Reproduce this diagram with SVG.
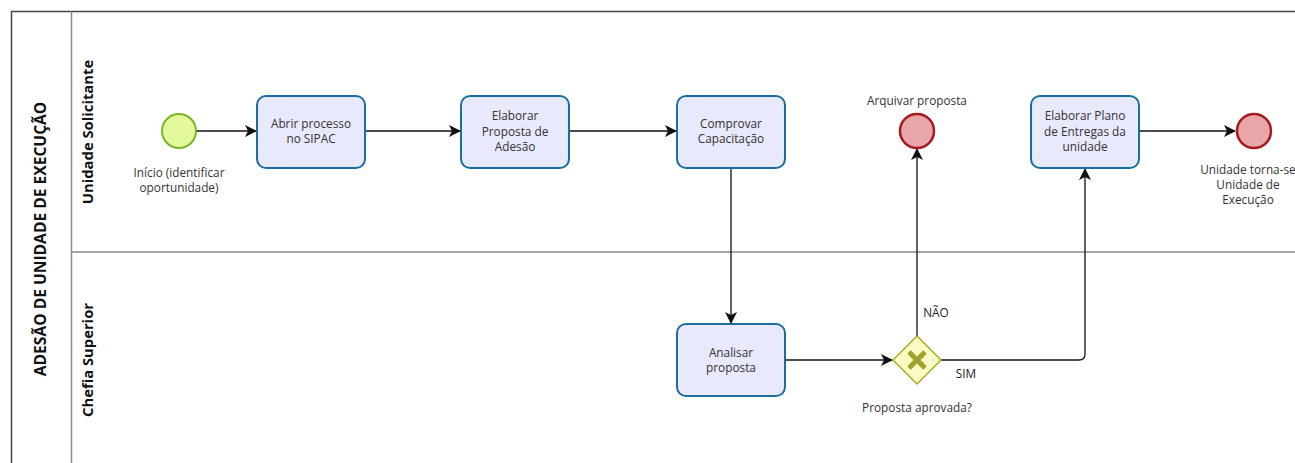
<svg xmlns="http://www.w3.org/2000/svg" width="1295" height="463" viewBox="0 0 1295 463">
<style>
.pool{fill:#fff;stroke:#444;stroke-width:1.5}
.lane{fill:none;stroke:#888;stroke-width:1.5}
.task{fill:#e8e9fc;stroke:#1b6e9f;stroke-width:2}
.start{fill:#e4f99b;stroke:#78b828;stroke-width:2}
.end{fill:#e9a6a8;stroke:#a41a20;stroke-width:2.5}
.gw{fill:#fbfbc4;stroke:#abab2a;stroke-width:1.5}
.gx{stroke:#a0a02a;stroke-width:5;stroke-linecap:butt}
.t{font-family:"Open Sans","Noto Sans",sans-serif;font-size:11.8px;fill:#333;text-anchor:middle}
.h{font-family:"Open Sans","Noto Sans",sans-serif;font-weight:bold;fill:#111;text-anchor:middle}
.c{fill:none;stroke:#111;stroke-width:1.3}
</style>
<defs>
<marker id="arr" viewBox="0 0 12 12" refX="11" refY="6" markerWidth="12" markerHeight="12" markerUnits="userSpaceOnUse" orient="auto">
<path d="M0,0 L12,6 L0,12 L3,6 Z" fill="#111"/>
</marker>
</defs>
<rect width="1295" height="463" fill="#fff"/>
<g id="pool">
<rect class="pool" x="11.5" y="11.5" width="1300" height="470"/>
<line class="lane" x1="71.5" y1="11.5" x2="71.5" y2="470"/>
<line class="lane" x1="71.5" y1="252" x2="1300" y2="252"/>
<text class="h" style="font-size:15.6px" transform="translate(46,239) rotate(-90)">ADESÃO DE UNIDADE DE EXECUÇÃO</text>
<text class="h" style="font-size:14.8px" transform="translate(93,132) rotate(-90)">Unidade Solicitante</text>
<text class="h" style="font-size:14.8px" transform="translate(93,360) rotate(-90)">Chefia Superior</text>
</g>
<g id="connectors">
<line class="c" x1="196" y1="131" x2="256" y2="131" marker-end="url(#arr)"/>
<line class="c" x1="366" y1="131" x2="460" y2="131" marker-end="url(#arr)"/>
<line class="c" x1="570" y1="131" x2="676" y2="131" marker-end="url(#arr)"/>
<line class="c" x1="731" y1="169" x2="731" y2="323" marker-end="url(#arr)"/>
<line class="c" x1="786" y1="360" x2="892" y2="360" marker-end="url(#arr)"/>
<line class="c" x1="917" y1="336" x2="917" y2="149" marker-end="url(#arr)"/>
<path class="c" d="M941,360 H1079 Q1085,360 1085,354 V169" marker-end="url(#arr)"/>
<line class="c" x1="1140" y1="131" x2="1235" y2="131" marker-end="url(#arr)"/>
<text class="t" x="936" y="317" style="fill:#222">NÃO</text>
<text class="t" x="966" y="378" style="fill:#222">SIM</text>
</g>
<g id="start">
<circle class="start" cx="179" cy="131" r="17"/>
<text class="t" x="179" y="177">Início (identificar</text>
<text class="t" x="179" y="192">oportunidade)</text>
</g>
<g id="task-abrir">
<rect class="task" x="257" y="96" width="108" height="72" rx="9"/>
<text class="t" x="311" y="128">Abrir processo</text>
<text class="t" x="311" y="143">no SIPAC</text>
</g>
<g id="task-elaborar-proposta">
<rect class="task" x="461" y="96" width="108" height="72" rx="9"/>
<text class="t" x="515" y="120">Elaborar</text>
<text class="t" x="515" y="136">Proposta de</text>
<text class="t" x="515" y="151">Adesão</text>
</g>
<g id="task-comprovar">
<rect class="task" x="677" y="96" width="108" height="72" rx="9"/>
<text class="t" x="731" y="128">Comprovar</text>
<text class="t" x="731" y="143">Capacitação</text>
</g>
<g id="task-analisar">
<rect class="task" x="677" y="324" width="108" height="72" rx="9"/>
<text class="t" x="731" y="357">Analisar</text>
<text class="t" x="731" y="372">proposta</text>
</g>
<g id="gateway">
<polygon class="gw" points="917,336 941,360 917,384 893,360"/>
<line class="gx" x1="909" y1="352" x2="925" y2="368"/>
<line class="gx" x1="925" y1="352" x2="909" y2="368"/>
<text class="t" x="917" y="412">Proposta aprovada?</text>
</g>
<g id="end-arquivar">
<circle class="end" cx="917" cy="131" r="17"/>
<text class="t" x="917" y="105">Arquivar proposta</text>
</g>
<g id="task-plano">
<rect class="task" x="1031" y="96" width="108" height="72" rx="9"/>
<text class="t" x="1085" y="120">Elaborar Plano</text>
<text class="t" x="1085" y="136">de Entregas da</text>
<text class="t" x="1085" y="151">unidade</text>
</g>
<g id="end-final">
<circle class="end" cx="1254" cy="131" r="17"/>
<text class="t" x="1248" y="174">Unidade torna-se</text>
<text class="t" x="1248" y="189">Unidade de</text>
<text class="t" x="1248" y="204">Execução</text>
</g>
</svg>
